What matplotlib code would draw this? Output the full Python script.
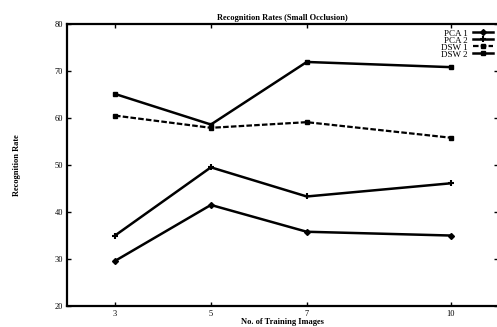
import matplotlib
matplotlib.use("Agg")
import matplotlib.pyplot as plt

# training images per subject
train_images = [3, 5, 7, 10]

# recognition rates (%)
pca_1 = [29.6, 41.5, 35.8, 35.0]
pca_2 = [35.0, 49.5, 43.3, 46.1]
dsw_1 = [60.5, 57.9, 59.1, 55.8]
dsw_2 = [65.1, 58.6, 71.9, 70.8]

y_ticks = [20, 30, 40, 50, 60, 70, 80]

plt.rcParams["font.family"] = ["Liberation Serif", "DejaVu Serif"]

fig = plt.figure(figsize=(4.97, 3.27), dpi=100)
ax = fig.add_axes([0.135, 0.064, 0.868, 0.863])

ax.plot(train_images, pca_1, color="black", linewidth=1.8, marker="D", markersize=3, label="PCA 1")
ax.plot(train_images, pca_2, color="black", linewidth=1.8, marker="+", markersize=4,
        markeredgewidth=1.5, label="PCA 2")
ax.plot(train_images, dsw_1, color="black", linewidth=1.6, linestyle=(0, (2.5, 1)), marker="s",
        markersize=3.5, label="DSW 1")
ax.plot(train_images, dsw_2, color="black", linewidth=1.8, marker="s", markersize=3.5, label="DSW 2")

ax.set_xlim(2, 11)
ax.set_ylim(20, 80)
ax.set_xticks(train_images)
ax.set_yticks(y_ticks)
ax.tick_params(direction="in", length=3, width=1, labelsize=6, top=True, right=True, pad=3)
for sp in ax.spines.values():
    sp.set_linewidth(1.6)

ax.set_title("Recognition Rates (Small Occlusion)", fontsize=6, pad=3, fontweight="bold")
ax.set_xlabel("No. of Training Images", fontsize=6, labelpad=0, fontweight="bold")
ax.set_ylabel("Recognition Rate", fontsize=6, labelpad=24, fontweight="bold")

ax.legend(loc="upper right", bbox_to_anchor=(1.0, 1.0), frameon=False, markerfirst=False,
          fontsize=6.5, handlelength=2.2, labelspacing=-0.15, handletextpad=0.6, borderpad=0.1)

fig.savefig("out.png", dpi=100)
